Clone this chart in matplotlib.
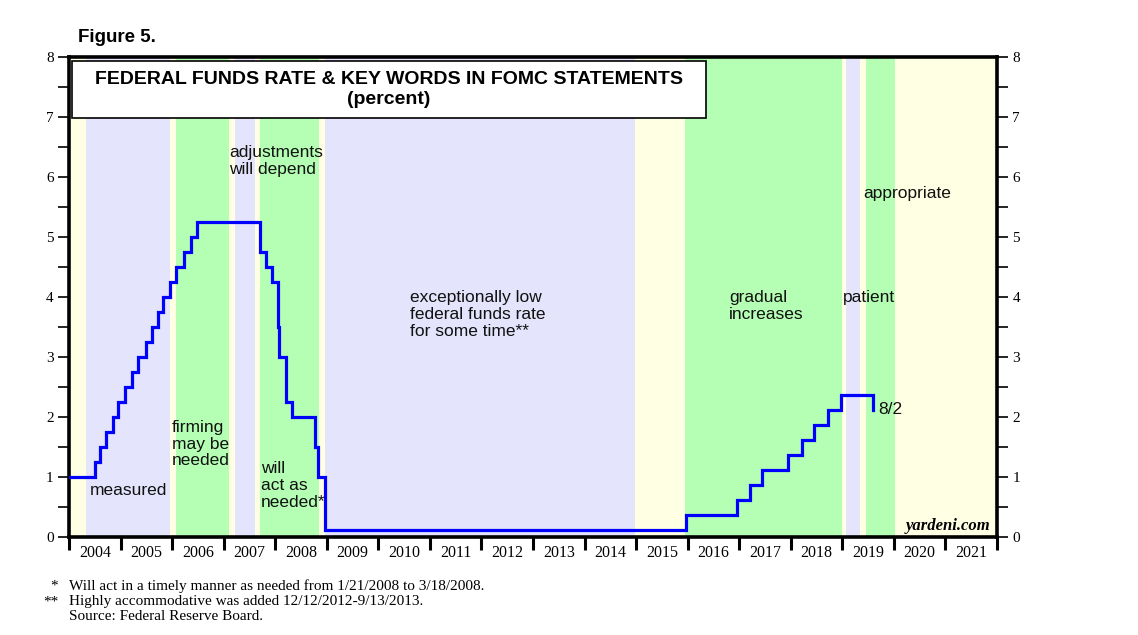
import matplotlib
matplotlib.use("Agg")
import matplotlib.pyplot as plt
from matplotlib.patches import Rectangle
import numpy as np

# ---- data ----
# policy-rate change dates (decimal years) and rate after change (percent)
rate_dates = [2004.00, 2004.50, 2004.61, 2004.72, 2004.86, 2004.95,
              2005.09, 2005.22, 2005.34, 2005.50, 2005.61, 2005.72, 2005.83, 2005.95,
              2006.08, 2006.24, 2006.36, 2006.49,
              2007.71, 2007.83, 2007.94, 2008.06, 2008.08, 2008.21, 2008.33,
              2008.77, 2008.83, 2008.96,
              2015.96, 2016.95, 2017.20, 2017.45, 2017.95, 2018.22, 2018.45,
              2018.73, 2018.97, 2019.59]
rate_values = [1.00, 1.25, 1.50, 1.75, 2.00, 2.25,
               2.50, 2.75, 3.00, 3.25, 3.50, 3.75, 4.00, 4.25,
               4.50, 4.75, 5.00, 5.25,
               4.75, 4.50, 4.25, 3.50, 3.00, 2.25, 2.00,
               1.50, 1.00, 0.125,
               0.375, 0.625, 0.875, 1.125, 1.375, 1.625, 1.875,
               2.125, 2.375, 2.125]

# key-word regime bands: start, end, kind
band_starts = [2004.00, 2004.33, 2005.96, 2006.08, 2007.10, 2007.22, 2007.61, 2007.70,
               2008.85, 2008.97, 2014.98, 2015.95, 2018.99, 2019.07, 2019.34, 2019.46, 2020.02]
band_ends   = [2004.33, 2005.96, 2006.08, 2007.10, 2007.22, 2007.61, 2007.70, 2008.85,
               2008.97, 2014.98, 2015.95, 2018.99, 2019.07, 2019.34, 2019.46, 2020.02, 2022.00]
band_kinds  = ["none", "lav", "none", "green", "none", "lav", "none", "green",
               "none", "lav", "none", "green", "none", "lav", "none", "green", "none"]

years = list(range(2004, 2022))
year_labels = [str(y) for y in years]
y_ticks = list(range(0, 9))

band_colors = {"none": "#FFFFE3", "lav": "#E4E4FC", "green": "#B4FFB4"}

fig = plt.figure(figsize=(11.38, 6.35), dpi=100)
ax = fig.add_axes([69/1138, 1-537/635, (997-69)/1138, (537-57)/635])

for s, e, k in zip(band_starts, band_ends, band_kinds):
    ax.axvspan(s, e, color=band_colors[k], lw=0, zorder=0)

ax.step(rate_dates, rate_values, where="post", color="#0000FF", lw=2.3, zorder=3,
        solid_joinstyle="miter")

ax.set_xlim(2004, 2022)
ax.set_ylim(0, 8)

for sp in ax.spines.values():
    sp.set_linewidth(2.6)
    sp.set_color("black")

# x axis: boundaries as major ticks, labels at mid-year
ax.set_xticks([y for y in years] + [2022])
ax.set_xticklabels([])
ax.set_xticks([y + 0.5 for y in years], minor=True)
ax.set_xticklabels(year_labels, minor=True, family="Liberation Serif", fontsize=11.5)
ax.tick_params(axis="x", which="major", direction="out", length=9, width=2.2)
ax.tick_params(axis="x", which="minor", length=0, pad=6)

# y axis both sides
ax.set_yticks(y_ticks)
ax.set_yticks(np.arange(0.5, 8, 1.0), minor=True)
ax.set_yticklabels([str(v) for v in y_ticks], family="Liberation Serif", fontsize=11)
ax.tick_params(axis="y", which="both", direction="out", length=8, width=1.2,
               left=True, right=True, labelleft=True, labelright=True, pad=3)

# title box
box = Rectangle((72/1138, 1-118/635), (706-72)/1138, (118-61)/635, transform=fig.transFigure,
                facecolor="white", edgecolor="black", lw=1.2, zorder=5)
fig.patches.append(box)
fig.text(389/1138, 1-80/635, "FEDERAL FUNDS RATE & KEY WORDS IN FOMC STATEMENTS",
         ha="center", va="center", family="Liberation Sans", weight="bold", fontsize=14, zorder=6)
fig.text(389/1138, 1-100/635, "(percent)", ha="center", va="center",
         family="Liberation Sans", weight="bold", fontsize=14, zorder=6)

fig.text(78/1138, 1-37/635, "Figure 5.", ha="left", va="center",
         family="Liberation Sans", weight="bold", fontsize=13.5)

ann = dict(family="Liberation Sans", fontsize=12.5, color="#111111", linespacing=1.13, zorder=4)
ax.text(2004.41, 0.78, "measured", ha="left", va="center", **ann)
ax.text(2006.0, 1.95, "firming\nmay be\nneeded", ha="left", va="top", **ann)
ax.text(2007.72, 1.26, "will\nact as\nneeded*", ha="left", va="top", **ann)
ax.text(2007.10, 6.53, "adjustments\nwill depend", ha="left", va="top", **ann)
ax.text(2010.61, 4.11, "exceptionally low\nfederal funds rate\nfor some time**", ha="left", va="top", **ann)
ax.text(2016.80, 4.11, "gradual\nincreases", ha="left", va="top", **ann)
ax.text(2019.01, 4.11, "patient", ha="left", va="top", **ann)
ax.text(2019.40, 5.72, "appropriate", ha="left", va="center", **ann)
ax.text(2019.69, 2.12, "8/2", ha="left", va="center", **ann)
ax.text(2021.87, 0.12, "yardeni.com", ha="right", va="baseline", family="Liberation Serif",
        style="italic", weight="bold", fontsize=12, zorder=4)

foot = dict(family="Liberation Serif", fontsize=11)
fig.text(58/1138, 1-586/635, "*", ha="right", va="center", **foot)
fig.text(69/1138, 1-586/635, "Will act in a timely manner as needed from 1/21/2008 to 3/18/2008.", ha="left", va="center", **foot)
fig.text(58/1138, 1-602/635, "**", ha="right", va="center", **foot)
fig.text(69/1138, 1-602/635, "Highly accommodative was added 12/12/2012-9/13/2013.", ha="left", va="center", **foot)
fig.text(69/1138, 1-617/635, "Source: Federal Reserve Board.", ha="left", va="center", **foot)

fig.savefig("out.png", dpi=100)
